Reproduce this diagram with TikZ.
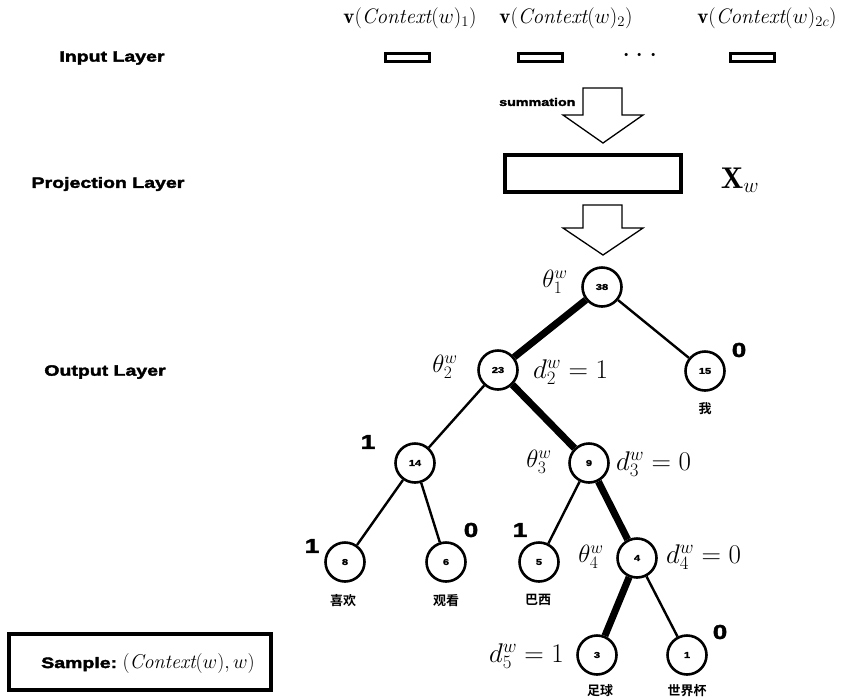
\RequirePackage{fix-cm}
\documentclass[tikz,border=0pt]{standalone}
\usepackage{fontspec}
\setsansfont{Liberation Sans}
\newfontfamily\heavy{Liberation Sans}[FakeBold=2.5,FakeStretch=1.3]
\newfontfamily\cjk{Noto Sans CJK SC}[BoldFont={Noto Sans CJK SC Bold}]
\begin{document}
\begin{tikzpicture}[x=1pt,y=-1pt,
  layerlbl/.style={font=\heavy\bfseries\fontsize{15}{16}\selectfont},
  inbox/.style={draw,line width=3pt,minimum width=44pt,minimum height=8pt,inner sep=0pt},
  tnode/.style={draw,circle,line width=2.6pt,minimum size=39pt,inner sep=0pt,font=\heavy\bfseries\fontsize{8.5}{9}\selectfont},
  thin/.style={line width=2.4pt},
  thick/.style={line width=7pt},
  bit/.style={font=\heavy\bfseries\fontsize{20}{22}\selectfont},
  mlbl/.style={font=\fontsize{25}{27}\selectfont},
  dlbl/.style={font=\fontsize{27}{29}\selectfont,inner sep=2pt},
  toplbl/.style={font=\fontsize{21}{23}\selectfont},
  word/.style={font=\cjk\bfseries\fontsize{13}{14}\selectfont},
  blockarrow/.style={draw,line width=1.3pt,fill=white,line join=miter}
]
\useasboundingbox (0,0) rectangle (858,697);
% layer labels
\node[layerlbl] (inl) at (112,58) {Input Layer};
\node[layerlbl] (prl) at (108,184) {Projection Layer};
\node[layerlbl] (oul) at (105,372) {Output Layer};
% input
\node[toplbl] (c1) at (410,18) {$\mathbf{v}(\mathit{Context}(w)_1)$};
\node[toplbl] (c2) at (566,18) {$\mathbf{v}(\mathit{Context}(w)_2)$};
\node[toplbl] (c3) at (767,18) {$\mathbf{v}(\mathit{Context}(w)_{2c})$};
\node[inbox] (b1) at (407,57) {};
\node[inbox] (b2) at (540,57) {};
\node[inbox] (b3) at (752,57) {};
\node[font=\fontsize{30}{30}\selectfont] (dots) at (640,56) {$\cdots$};
% summation arrow
\draw[blockarrow] (583,88) -- (622,88) -- (622,115) -- (643,115) -- (603,143) -- (563,115) -- (583,115) -- cycle;
\node[font=\heavy\bfseries\fontsize{11}{12}\selectfont,anchor=east] (sum) at (579,102) {summation};
% projection
\node[draw,line width=4pt,minimum width=176pt,minimum height=37pt,inner sep=0pt] (proj) at (593,173) {};
\node[font=\fontsize{30}{32}\selectfont] (xw) at (740,180) {$\mathbf{X}_w$};
\draw[blockarrow] (583,205) -- (622,205) -- (622,228) -- (643,228) -- (603,255) -- (563,228) -- (583,228) -- cycle;
% tree nodes
\node[tnode] (n38) at (602,287) {38};
\node[tnode] (n23) at (498,370) {23};
\node[tnode] (n15) at (705,371) {15};
\node[tnode] (n14) at (415,463) {14};
\node[tnode] (n9) at (589,463) {9};
\node[tnode] (n8) at (345,562) {8};
\node[tnode] (n6) at (446,562) {6};
\node[tnode] (n5) at (539,562) {5};
\node[tnode] (n4) at (637,558) {4};
\node[tnode] (n3) at (597,655) {3};
\node[tnode] (n1) at (687,655) {1};
% edges
\draw[thick] (n38) -- (n23);
\draw[thick] (n23) -- (n9);
\draw[thick] (n9) -- (n4);
\draw[thick] (n4) -- (n3);
\draw[thin] (n38) -- (n15);
\draw[thin] (n23) -- (n14);
\draw[thin] (n14) -- (n8);
\draw[thin] (n14) -- (n6);
\draw[thin] (n9) -- (n5);
\draw[thin] (n4) -- (n1);
% math labels
\node[mlbl] (t1) at (555,282) {$\theta_1^w$};
\node[mlbl] (t2) at (445,367) {$\theta_2^w$};
\node[dlbl,anchor=west] (d2) at (531,372) {$d_2^w=1$};
\node[mlbl] (t3) at (539,462) {$\theta_3^w$};
\node[dlbl,anchor=west] (d3) at (614,464) {$d_3^w=0$};
\node[mlbl] (t4) at (591,557) {$\theta_4^w$};
\node[dlbl,anchor=west] (d4) at (664,557) {$d_4^w=0$};
\node[dlbl,anchor=east] (d5) at (566,656) {$d_5^w=1$};
% bits
\node[bit] (b15) at (739,350) {0};
\node[bit] (b14) at (368,442) {1};
\node[bit] (b8) at (312,546) {1};
\node[bit] (b6) at (471,530) {0};
\node[bit] (b5) at (520,530) {1};
\node[bit] (b1x) at (720,632) {0};
% words
\node[word] (w15) at (705,409) {我};
\node[word] (w8) at (343,601) {喜欢};
\node[word] (w6) at (446,601) {观看};
\node[word] (w5) at (538,600) {巴西};
\node[word] (w3) at (600,691) {足球};
\node[word] (w1) at (687,691) {世界杯};
% sample box
\node[draw,line width=4pt,minimum width=262pt,minimum height=56pt,inner sep=0pt] (samp) at (140,662) {};
\node (samptxt) at (148,663) {\heavy\bfseries\fontsize{15}{16}\selectfont Sample:\ \rmfamily\mdseries\fontsize{20}{22}\selectfont$(\mathit{Context}(w),w)$};
\end{tikzpicture}
\end{document}
